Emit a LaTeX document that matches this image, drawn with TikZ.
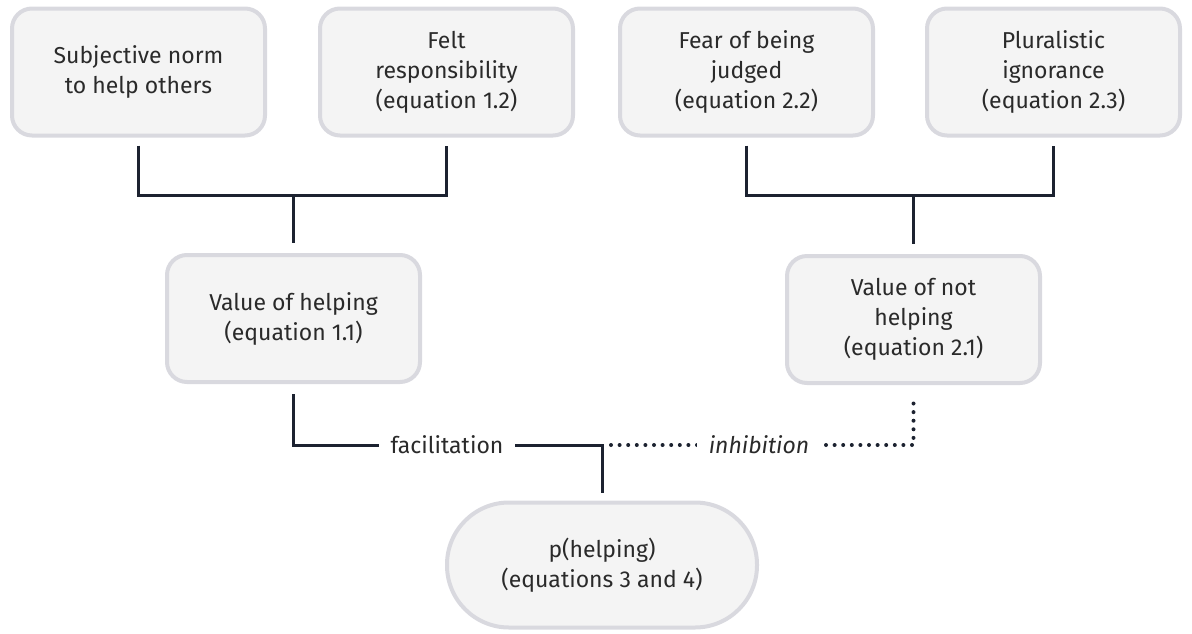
\documentclass[tikz,border=0pt]{standalone}
\usepackage{fontspec}
\setmainfont{Fira Sans}
\definecolor{boxfill}{HTML}{F4F4F4}
\definecolor{boxline}{HTML}{D9D9DF}
\definecolor{conncol}{HTML}{1C2230}
\definecolor{txtcol}{HTML}{2A2A2A}
\begin{document}
\begin{tikzpicture}[x=1pt,y=-1pt,
  box/.style={draw=boxline,fill=boxfill,line width=4pt,rounded corners=20pt,
    minimum width=253pt,minimum height=127pt,align=center,text=txtcol,
    font=\fontsize{23}{30}\selectfont},
  pill/.style={box,rounded corners=62pt,minimum width=310pt,minimum height=125pt},
  conn/.style={draw=conncol,line width=3pt},
  dots/.style={draw=conncol,line width=4pt,line cap=round,dash pattern=on 0pt off 8.6pt},
  lbl/.style={fill=white,text=txtcol,font=\fontsize{23}{26}\selectfont,inner xsep=12pt}]
\useasboundingbox (0,0) rectangle (1192,633);
\node[box] (n1) at (138.5,72) {Subjective norm\\to help others};
\node[box] (n2) at (446.5,72) {Felt\\responsibility\\(equation 1.2)};
\node[box] (n3) at (746.5,72) {Fear of being\\judged\\(equation 2.2)};
\node[box] (n4) at (1053.5,72) {Pluralistic\\ignorance\\(equation 2.3)};
\node[box] (n5) at (293.5,318.5) {Value of helping\\(equation 1.1)};
\node[box] (n6) at (913.5,319.5) {Value of not\\helping\\(equation 2.1)};
\node[pill] (n7) at (602,565) {p(helping)\\(equations 3 and 4)};
% top-left tree
\coordinate (a1) at ([yshift=-8pt]n1.south);
\coordinate (a2) at ([yshift=-8pt]n2.south);
\coordinate (a5) at ([yshift=10pt]n5.north);
\draw[conn] (a1) -- (a1 |- 0,195) -- (a2 |- 0,195) -- (a2);
\draw[conn] (a5 |- 0,195) -- (a5);
% top-right tree
\coordinate (a3) at ([yshift=-8pt]n3.south);
\coordinate (a4) at ([yshift=-8pt]n4.south);
\coordinate (a6) at ([yshift=10pt]n6.north);
\draw[conn] (a3) -- (a3 |- 0,195) -- (a4 |- 0,195) -- (a4);
\draw[conn] (a6 |- 0,195) -- (a6);
% bottom
\coordinate (b5) at ([yshift=-10pt]n5.south);
\coordinate (b6) at ([yshift=-10pt]n6.south);
\coordinate (b7) at ([yshift=8pt]n7.north);
\draw[conn] (b5) -- (b5 |- 0,445) -- (b7 |- 0,445) -- (b7);
\draw[dots] (b7 |- 0,445) ++(9,0) -- (b6 |- 0,445) -- (b6);
\node[lbl] (fac) at (447,445) {facilitation};
\node[lbl,font=\fontsize{23}{26}\selectfont\itshape] (inh) at (759,445) {inhibition};
\end{tikzpicture}
\end{document}
